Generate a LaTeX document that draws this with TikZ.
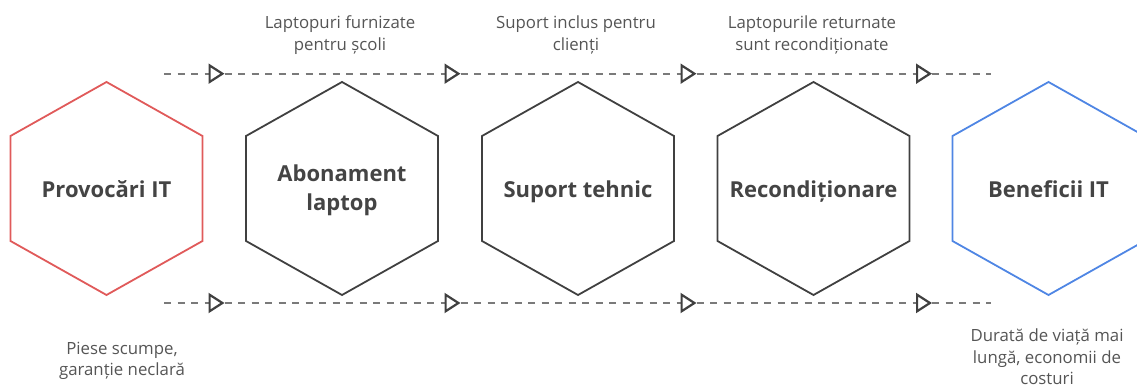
\documentclass[tikz,border=0pt]{standalone}
\usepackage{fontspec}
\setmainfont{Open Sans}
\usetikzlibrary{arrows.meta}
\definecolor{hexred}{HTML}{E05A5A}
\definecolor{hexblue}{HTML}{4F86E4}
\definecolor{hexdark}{HTML}{404040}
\definecolor{titlecol}{HTML}{444444}
\definecolor{labelcol}{HTML}{555555}
\definecolor{dashcol}{HTML}{7A7A7A}
\begin{document}
\begin{tikzpicture}[x=1pt,y=-1pt,
  hexa/.pic={\draw[pic actions] (0,-106.5) -- (96,-52.5) -- (96,52.5) -- (0,106.5) -- (-96,52.5) -- (-96,-52.5) -- cycle;},
  hexstroke/.style={line width=1.8pt, line join=miter},
  hextitle/.style={font=\bfseries\fontsize{22}{29}\selectfont, text=titlecol, align=center, inner sep=0pt},
  notetext/.style={font=\fontsize{16.8}{21.5}\selectfont, text=labelcol, align=center, inner sep=0pt},
  flow/.style={draw=dashcol, line width=1.8pt, dash pattern=on 7pt off 6.5pt},
  flowtip/.style={-{Triangle[open, length=16pt, width=20pt, line width=2.2pt, color=hexdark]}}
]
\useasboundingbox (0,0) rectangle (1137,387);

% hexagon centres
\coordinate (c1) at (106.5,188.5);
\coordinate (c2) at (342,188.5);
\coordinate (c3) at (578,188.5);
\coordinate (c4) at (813.5,188.5);
\coordinate (c5) at (1048.5,188.5);

\pic[draw=hexred, hexstroke] at (c1) {hexa};
\pic[draw=hexdark, hexstroke] at (c2) {hexa};
\pic[draw=hexdark, hexstroke] at (c3) {hexa};
\pic[draw=hexdark, hexstroke] at (c4) {hexa};
\pic[draw=hexblue, hexstroke] at (c5) {hexa};

% titles
\node[hextitle] (h1) at (106.5,191.5) {\strut Provocări IT\strut};
\node[hextitle] (h2) at (342,190.4) {\strut Abonament\\ laptop\strut};
\node[hextitle] (h3) at (578,191.5) {\strut Suport tehnic\strut};
\node[hextitle] (h4) at (813.5,191.5) {\strut Recondiționare\strut};
\node[hextitle] (h5) at (1048.5,191.5) {\strut Beneficii IT\strut};

% top labels
\node[notetext] (l2) at (340,35.45) {\strut Laptopuri furnizate\\ pentru școli\strut};
\node[notetext] (l3) at (576,35.45) {\strut Suport inclus pentru\\ clienți\strut};
\node[notetext] (l4) at (812,35.45) {\strut Laptopurile returnate\\ sunt recondiționate\strut};

% bottom labels
\node[notetext] (l1) at (122,360.7) {\strut Piese scumpe,\\ garanție neclară\strut};
\node[notetext] (l5) at (1047,356) {\strut Durată de viață mai\\ lungă, economii de\\ costuri};

% top flow line
\coordinate (t0) at (164,73.7);
\coordinate (t1) at (224.5,73.7);
\coordinate (t2) at (460.5,73.7);
\coordinate (t3) at (696.5,73.7);
\coordinate (t4) at (932,73.7);
\coordinate (t5) at (991,73.7);
\draw[flow, flowtip] (t0) -- (t1);
\draw[flow, flowtip] (t1) -- (t2);
\draw[flow, flowtip] (t2) -- (t3);
\draw[flow, flowtip] (t3) -- (t4);
\draw[flow] (t4) -- (t5);

% bottom flow line
\coordinate (b0) at (164,303);
\coordinate (b1) at (224.5,303);
\coordinate (b2) at (460.5,303);
\coordinate (b3) at (696.5,303);
\coordinate (b4) at (932,303);
\coordinate (b5) at (991,303);
\draw[flow, flowtip] (b0) -- (b1);
\draw[flow, flowtip] (b1) -- (b2);
\draw[flow, flowtip] (b2) -- (b3);
\draw[flow, flowtip] (b3) -- (b4);
\draw[flow] (b4) -- (b5);
\end{tikzpicture}
\end{document}
